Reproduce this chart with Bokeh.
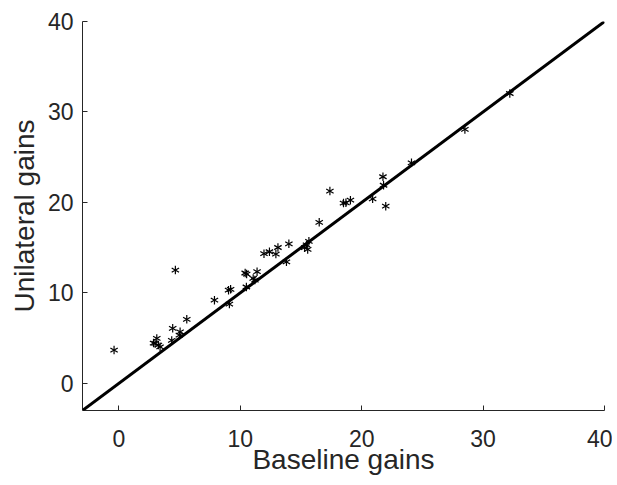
import math
from bokeh.plotting import figure
from bokeh.models import Range1d, Slope, FixedTicker, ColumnDataSource
from bokeh.embed import file_html
from bokeh.resources import INLINE

# Data
baseline_gains = [-0.4, 2.85, 2.98, 3.12, 3.25, 3.39, 4.35, 4.43, 4.65, 5.04, 4.98,
                  5.59, 7.87, 9.03, 9.2, 9.1, 10.4, 10.52, 10.5, 11.06, 11.38, 11.2,
                  11.95, 12.4, 12.93, 13.1, 13.8, 14.0, 15.3, 15.55, 15.65, 15.45,
                  16.5, 17.38, 18.5, 18.7, 19.07, 20.9, 21.75, 21.8, 21.98, 24.1,
                  28.5, 32.2]
unilateral_gains = [3.68, 4.45, 4.42, 4.97, 4.23, 4.04, 4.75, 6.08, 12.52, 5.7, 5.34,
                    7.08, 9.2, 10.3, 10.4, 8.76, 12.2, 12.08, 10.65, 11.6, 12.34, 11.42,
                    14.33, 14.55, 14.29, 15.02, 13.44, 15.43, 15.0, 14.8, 15.7, 15.3,
                    17.8, 21.25, 19.93, 19.96, 20.25, 20.4, 22.84, 21.9, 19.59, 24.38,
                    28.07, 32.04]
tick_values = [0, 10, 20, 30, 40]
axis_min, axis_max = -3, 40

FONT = "Liberation Sans"
TXT = "#262626"

p = figure(width=612, height=482, output_backend="svg", toolbar_location=None,
           x_range=Range1d(axis_min, axis_max), y_range=Range1d(axis_min, axis_max),
           min_border_left=82, min_border_right=8, min_border_top=21,
           min_border_bottom=72)
p.outline_line_color = None
p.grid.visible = False
p.background_fill_color = "white"

p.add_layout(Slope(gradient=1, y_intercept=0, line_color="black", line_width=3))

src = ColumnDataSource(dict(x=baseline_gains, y=unilateral_gains))
# six-armed asterisk made of three rotated dashes
for ang in (math.pi / 2, math.pi / 6, -math.pi / 6):
    p.scatter("x", "y", source=src, marker="dash", size=8.5, angle=ang,
              line_color="black", line_width=1.2)

for ax in (p.xaxis[0], p.yaxis[0]):
    ax.ticker = FixedTicker(ticks=tick_values)
    ax.major_tick_in = 5
    ax.major_tick_out = 0
    ax.minor_tick_line_color = None
    ax.axis_line_color = TXT
    ax.major_tick_line_color = TXT
    ax.axis_line_width = 1
    ax.major_label_text_font = FONT
    ax.major_label_text_font_size = "23px"
    ax.major_label_text_color = TXT
    ax.axis_label_text_font = FONT
    ax.axis_label_text_font_size = "28px"
    ax.axis_label_text_font_style = "normal"
    ax.axis_label_text_color = TXT

p.xaxis.axis_label = "Baseline gains"
p.yaxis.axis_label = "Unilateral gains"
p.xaxis.major_label_standoff = 19
p.yaxis.major_label_standoff = 9
p.xaxis.axis_label_standoff = -6
p.yaxis.axis_label_standoff = 5

open("out.html", "w").write(file_html(p, INLINE))
